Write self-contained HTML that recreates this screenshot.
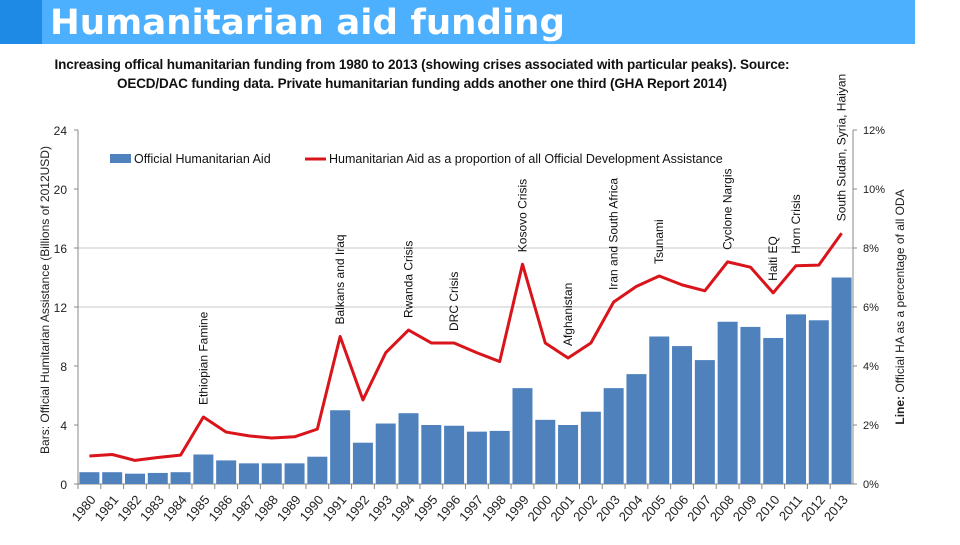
<!DOCTYPE html>
<html><head><meta charset="utf-8"><style>
body{margin:0;width:960px;height:540px;background:#fff;overflow:hidden;font-family:"Liberation Sans",sans-serif}
</style></head><body>
<svg width="960" height="540" xmlns="http://www.w3.org/2000/svg">
<rect x="0" y="0" width="915" height="44" fill="#4db0ff"/>
<rect x="0" y="0" width="42" height="44" fill="#1f8ae6"/>
<text x="50" y="34" font-size="35" font-weight="bold" fill="#fff" font-family="DejaVu Sans, sans-serif" textLength="515" lengthAdjust="spacingAndGlyphs">Humanitarian aid funding</text>
<text x="422" y="69" font-size="13.5" font-weight="bold" text-anchor="middle" fill="#111" textLength="735">Increasing offical humanitarian funding from 1980 to 2013 (showing crises associated with particular peaks). Source:</text>
<text x="422" y="88" font-size="13.5" font-weight="bold" text-anchor="middle" fill="#111" textLength="610">OECD/DAC funding data. Private humanitarian funding adds another one third (GHA Report 2014)</text>
<g id="plot"></g>
</svg>
<script>
const years=[1980,1981,1982,1983,1984,1985,1986,1987,1988,1989,1990,1991,1992,1993,1994,1995,1996,1997,1998,1999,2000,2001,2002,2003,2004,2005,2006,2007,2008,2009,2010,2011,2012,2013];
const aid=[0.8,0.8,0.7,0.75,0.8,2.0,1.6,1.4,1.4,1.4,1.85,5.0,2.8,4.1,4.8,4.0,3.95,3.55,3.6,6.5,4.35,4.0,4.9,6.5,7.45,10.0,9.35,8.4,11.0,10.65,9.9,11.5,11.1,14.0];
const share=[0.95,1.0,0.8,0.9,0.98,2.27,1.76,1.63,1.56,1.6,1.86,5.0,2.85,4.45,5.22,4.78,4.78,4.45,4.15,7.45,4.78,4.27,4.78,6.17,6.7,7.05,6.75,6.55,7.53,7.35,6.48,7.4,7.42,8.5];
const leftTicks=[0,4,8,12,16,20,24];
const rightTicks=[0,2,4,6,8,10,12];
const crises=[["Ethiopian Famine",1985,2.27],["Balkans and Iraq",1991,5.0],["Rwanda Crisis",1994,5.22],["DRC Crisis",1996,4.78],["Kosovo Crisis",1999,7.45],["Afghanistan",2001,4.27],["Iran and South Africa",2003,6.17],["Tsunami",2005,7.05],["Cyclone Nargis",2008,7.53],["Haiti EQ",2010,6.48],["Horn Crisis",2011,7.4],["South Sudan, Syria, Haiyan",2013,8.5]];
const X0=78,X1=853,Y0=484,Y1=130;
const slot=(X1-X0)/years.length;
const xC=i=>X0+slot*(i+0.5);
const yL=v=>Y0-(v/24)*(Y0-Y1);
const yR=v=>Y0-(v/12)*(Y0-Y1);
const NS="http://www.w3.org/2000/svg";
const g=document.getElementById('plot');
function mk(t,a,txt){const e=document.createElementNS(NS,t);for(const k in a)e.setAttribute(k,a[k]);if(txt!==undefined)e.textContent=txt;g.appendChild(e);return e;}
[12,16].forEach(v=>{const e=mk('line',{x1:X0,x2:X1,y1:yL(v),y2:yL(v),stroke:'#c8c8c8','stroke-width':1});

});
let e=mk('line',{x1:X0,x2:X0,y1:Y1,y2:Y0,stroke:'#888'});


e=mk('line',{x1:X1,x2:X1,y1:Y1,y2:Y0,stroke:'#888'});


e=mk('line',{x1:X0,x2:X1,y1:Y0,y2:Y0,stroke:'#888'});


leftTicks.forEach(v=>{const t=mk('text',{x:67,y:yL(v)+5,'font-size':12,'text-anchor':'end',fill:'#222'},String(v));


mk('line',{x1:X0-4,x2:X0,y1:yL(v),y2:yL(v),stroke:'#888'});});
rightTicks.forEach(v=>{const t=mk('text',{x:863,y:yR(v)+4,'font-size':11,fill:'#222'},v+'%');


mk('line',{x1:X1,x2:X1+4,y1:yR(v),y2:yR(v),stroke:'#888'});});
years.forEach((yr,i)=>{
const b=mk('rect',{x:xC(i)-10,y:yL(aid[i]),width:20,height:Y0-yL(aid[i]),fill:'#4f81bd'});


const t=mk('text',{x:xC(i)+7,y:500,'font-size':13,'text-anchor':'end',fill:'#222',transform:`rotate(-50 ${xC(i)+7} 500)`},String(yr));


mk('line',{x1:X0+slot*i,x2:X0+slot*i,y1:Y0,y2:Y0+5,stroke:'#888'});
});
const pl=mk('polyline',{points:share.map((v,i)=>xC(i)+','+yR(v)).join(' '),fill:'none',stroke:'#d9141b','stroke-width':3,'stroke-linejoin':'round'});


crises.forEach(c=>{const i=years.indexOf(c[1]);const x=xC(i)+4,y=yR(c[2])-12;
const t=mk('text',{x:x,y:y,'font-size':12,fill:'#111',transform:`rotate(-90 ${x} ${y})`},c[0]);

});
e=mk('rect',{x:110,y:154,width:21,height:9,fill:'#4f81bd'});


e=mk('text',{x:134,y:163,'font-size':12.5,fill:'#111'},'Official Humanitarian Aid');


e=mk('line',{x1:305,x2:326,y1:159,y2:159,stroke:'#d9141b','stroke-width':3});


e=mk('text',{x:329,y:163,'font-size':12.5,fill:'#111'},'Humanitarian Aid as a proportion of all Official Development Assistance');


e=mk('text',{x:49,y:300,'font-size':12,'text-anchor':'middle',fill:'#222',transform:'rotate(-90 49 300)'},'Bars: Official Humitarian Assistance (Billions of 2012USD)');


e=mk('text',{x:904,y:307,'font-size':12,'text-anchor':'middle',fill:'#222',transform:'rotate(-90 904 307)'});
e.innerHTML='<tspan font-weight="bold">Line:</tspan> Official HA as a percentage of all ODA';


</script>
</body></html>
